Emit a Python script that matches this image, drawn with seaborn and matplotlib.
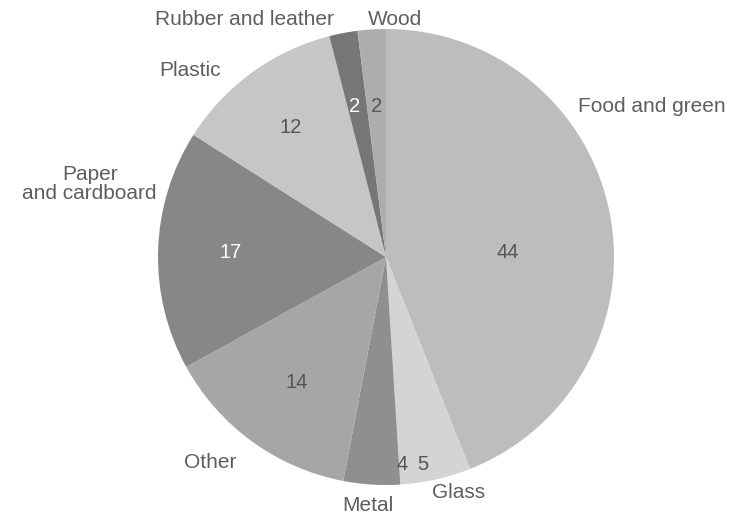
import numpy as np
import pandas as pd
import matplotlib
matplotlib.use('Agg')
import matplotlib.pyplot as plt
import seaborn as sns

# ── DATA ────────────────────────────────────────────────────
categories = ['Food and green', 'Glass', 'Metal', 'Other',
              'Paper\nand cardboard', 'Plastic', 'Rubber and leather', 'Wood']
shares = [44, 5, 4, 14, 17, 12, 2, 2]

# ── STYLE ───────────────────────────────────────────────────
sns.set_theme(style='white')
plt.rcParams['font.family'] = ['Liberation Sans', 'DejaVu Sans']

colors = ['#bdbdbd', '#d4d4d4', '#8f8f8f', '#a6a6a6',
          '#878787', '#c6c6c6', '#767676', '#adadad']
num_colors = ['#555555', '#555555', '#555555', '#555555',
              'white', '#555555', 'white', '#555555']
text_gray = '#5e5e5e'

# label positions in units of the pie radius
num_pos = [(0.535, 0.02), (0.16, -0.91), (0.07, -0.91), (-0.39, -0.55),
           (-0.68, 0.02), (-0.42, 0.57), (-0.136, 0.66), (-0.04, 0.66)]
name_pos = [(1.165, 0.66), (0.32, -1.035), (-0.08, -1.09), (-0.77, -0.90),
            (-1.30, 0.32), (-0.86, 0.82), (-0.62, 1.04), (0.04, 1.04)]

fig = plt.figure(figsize=(7.29, 5.17), dpi=100)
ax = fig.add_axes([158 / 729, 32 / 517, 456 / 729, 456 / 517])

ax.pie(shares, colors=colors, startangle=90, counterclock=False,
       radius=1, wedgeprops=dict(linewidth=0))

for val, (x, y), c in zip(shares, num_pos, num_colors):
    ax.text(x, y, str(val), ha='center', va='center', fontsize=14.5, color=c)

for name, (x, y) in zip(categories, name_pos):
    ax.text(x, y, name, ha='center', va='center', fontsize=15,
            color=text_gray, multialignment='center', linespacing=1.0)

ax.set_xlim(-1, 1)
ax.set_ylim(-1, 1)
ax.set_aspect('equal')
ax.axis('off')

fig.savefig('out.png', dpi=100)
